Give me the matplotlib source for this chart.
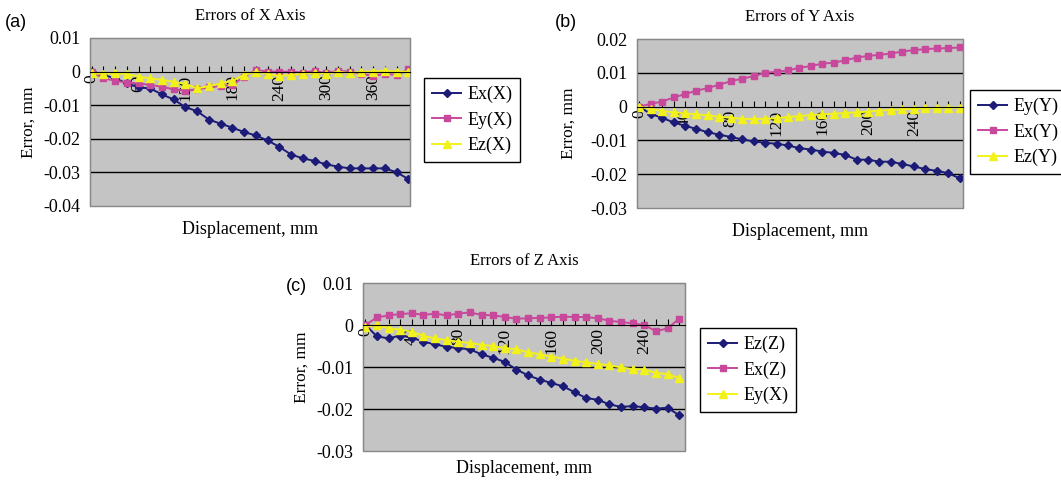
import matplotlib
matplotlib.use("Agg")
import matplotlib.pyplot as plt

plt.rcParams['font.family'] = ['Liberation Serif', 'DejaVu Serif']

# ---- (a) errors of X axis, every 15 mm ----
x_a = list(range(0, 406, 15))
ex_x = [0, -0.001, -0.002, -0.0035, -0.0047, -0.005, -0.0068, -0.0083, -0.0106, -0.0118,
        -0.0143, -0.0155, -0.0167, -0.018, -0.019, -0.0205, -0.0224, -0.0247, -0.0258,
        -0.0266, -0.0276, -0.0283, -0.0288, -0.0288, -0.0288, -0.0288, -0.030, -0.032]
ey_x = [0, -0.002, -0.0027, -0.0033, -0.0035, -0.004, -0.0045, -0.0053, -0.0057, -0.0053,
        -0.0047, -0.0043, -0.004, -0.0015, 0.0005, 0.0, 0.0, 0.0, -0.0003, 0.0002,
        -0.0005, 0.0003, 0.0, -0.0007, -0.0013, -0.0007, -0.001, 0.0007]
ez_x = [-0.0005, -0.0007, -0.0005, -0.0007, -0.0015, -0.002, -0.0025, -0.003, -0.0037, -0.005,
        -0.0043, -0.0035, -0.0027, -0.001, 0.0, -0.0007, -0.0013, -0.001, -0.0007, -0.0003,
        -0.0007, 0.0, -0.0005, 0.0, 0.0, 0.0003, 0.0, 0.0]
labels_a = [0, 60, 120, 180, 240, 300, 360]

# ---- (b) errors of Y axis, every 10 mm ----
x_b = list(range(0, 281, 10))
ey_y = [0, -0.0022, -0.0033, -0.0047, -0.0057, -0.0066, -0.0076, -0.0083, -0.009, -0.0097,
        -0.0103, -0.0107, -0.011, -0.0115, -0.0123, -0.0127, -0.0133, -0.0137, -0.0143,
        -0.0157, -0.0157, -0.0163, -0.0163, -0.017, -0.0177, -0.0185, -0.019, -0.0197, -0.0212]
ex_y = [0, 0.0008, 0.0015, 0.0027, 0.0037, 0.0047, 0.0055, 0.0065, 0.0075, 0.0083,
        0.009, 0.010, 0.0103, 0.0107, 0.0115, 0.012, 0.0127, 0.013, 0.0137, 0.0145,
        0.015, 0.0153, 0.0157, 0.0163, 0.0167, 0.017, 0.0172, 0.0173, 0.0175]
ez_y = [0, -0.0007, -0.0013, -0.0017, -0.002, -0.0023, -0.0026, -0.003, -0.0033, -0.0036,
        -0.0037, -0.0036, -0.0034, -0.0031, -0.0028, -0.0025, -0.0023, -0.0021, -0.0019,
        -0.0017, -0.0015, -0.0012, -0.001, -0.0008, -0.0007, -0.0005, -0.0004, -0.0003, -0.0003]
labels_b = [0, 40, 80, 120, 160, 200, 240]

# ---- (c) errors of Z axis, every 10 mm ----
x_c = list(range(0, 271, 10))
ez_z = [0, -0.0027, -0.0032, -0.0025, -0.003, -0.004, -0.0046, -0.0052, -0.0055, -0.0058,
        -0.007, -0.0078, -0.0088, -0.0106, -0.012, -0.013, -0.0138, -0.0146, -0.016,
        -0.0174, -0.0178, -0.0189, -0.0195, -0.0193, -0.0196, -0.0199, -0.0197, -0.0215]
ex_z = [0, 0.0018, 0.0023, 0.0026, 0.0028, 0.0024, 0.0027, 0.0023, 0.0027, 0.003,
        0.0024, 0.0023, 0.0019, 0.0015, 0.0016, 0.0017, 0.0018, 0.002, 0.0019, 0.0019,
        0.0016, 0.001, 0.0007, 0.0004, 0.0, -0.0015, -0.0008, 0.0015]
ey_xc = [-0.0004, 0.0, -0.0008, -0.0011, -0.0016, -0.0026, -0.0032, -0.0036, -0.004, -0.0043,
         -0.0047, -0.005, -0.0055, -0.0058, -0.0065, -0.007, -0.0075, -0.008, -0.0085,
         -0.0089, -0.0093, -0.0096, -0.0101, -0.0105, -0.0106, -0.0114, -0.0117, -0.0126]
labels_c = [0, 40, 80, 120, 160, 200, 240]

NAVY = '#1c1c78'
PINK = '#c8489c'
YELLOW = '#f2f21a'


def panel(rect, x, series, names, ylim, xlim, shown, title, tag, tagpos, legpos,
          ylpad=5, xly=-0.09):
    ax = fig.add_axes(rect)
    ax.set_facecolor('#c4c4c4')
    styles = [(NAVY, 'D', 4.5), (PINK, 's', 5), (YELLOW, '^', 6)]
    for ys, lab, (c, m, ms) in zip(series, names, styles):
        ax.plot(x, ys, color=c, marker=m, markersize=ms, lw=1.4, label=lab)
    ax.set_ylim(*ylim)
    ax.set_xlim(*xlim)
    yt = [v / 100 for v in range(int(round(ylim[0] * 100)), int(round(ylim[1] * 100)) + 1)]
    ax.set_yticks(yt)
    ax.set_yticklabels(['0' if abs(v) < 1e-9 else f'{v:g}' for v in yt], fontsize=13)
    for v in yt:
        if ylim[0] < v < ylim[1] and abs(v) > 1e-9:
            ax.axhline(v, color='black', lw=1.0, zorder=1)
    ax.tick_params(axis='y', length=0, pad=7)
    for s in ['top', 'right', 'left']:
        ax.spines[s].set_color('#888888')
    ax.spines['bottom'].set_position(('data', 0))
    ax.spines['bottom'].set_color('black')
    ax.set_xticks(x)
    ax.set_xticklabels([str(v) if v in shown else '' for v in x], rotation=90, fontsize=12.5)
    ax.tick_params(axis='x', direction='in', length=4, pad=2)
    ax.add_patch(plt.Rectangle((0, 0), 1, 1, transform=ax.transAxes, fill=False,
                               edgecolor='#888888', lw=1.0, clip_on=False, zorder=0))
    ax.set_title(title, fontsize=12, pad=13)
    ax.set_xlabel('Displacement, mm', fontsize=13)
    ax.xaxis.set_label_coords(0.5, xly)
    ax.set_ylabel('Error, mm', fontsize=12.5, labelpad=ylpad)
    fig.text(tagpos[0], tagpos[1], tag, fontsize=13, family=['Liberation Sans', 'DejaVu Sans'])
    ax.legend(loc='upper left', bbox_to_anchor=legpos, bbox_transform=fig.transFigure,
              borderaxespad=0, fancybox=False, edgecolor='black', framealpha=1,
              fontsize=13, handlelength=1.6, handletextpad=0.35, labelspacing=0.45,
              borderpad=0.45)
    return ax


fig = plt.figure(figsize=(10.61, 4.83), dpi=100)
W, H = 1061, 483

panel([90 / W, 1 - 206 / H, 320 / W, 168 / H], x_a, [ex_x, ey_x, ez_x],
      ['Ex(X)', 'Ey(X)', 'Ez(X)'], (-0.04, 0.01), (-2, 407), labels_a,
      'Errors of X Axis', '(a)', (5 / W, 1 - 27 / H), (424 / W, 1 - 78 / H))
panel([637 / W, 1 - 208 / H, 326 / W, 169 / H], x_b, [ey_y, ex_y, ez_y],
      ['Ey(Y)', 'Ex(Y)', 'Ez(Y)'], (-0.03, 0.02), (-2, 283), labels_b,
      'Errors of Y Axis', '(b)', (555 / W, 1 - 27 / H), (970 / W, 1 - 90 / H), ylpad=10)
panel([363 / W, 1 - 451 / H, 322 / W, 168 / H], x_c, [ez_z, ex_z, ey_xc],
      ['Ez(Z)', 'Ex(Z)', 'Ey(X)'], (-0.03, 0.01), (-2, 275), labels_c,
      'Errors of Z Axis', '(c)', (286 / W, 1 - 291 / H), (700 / W, 1 - 328 / H), xly=-0.055)

fig.savefig('out.png', dpi=100)
